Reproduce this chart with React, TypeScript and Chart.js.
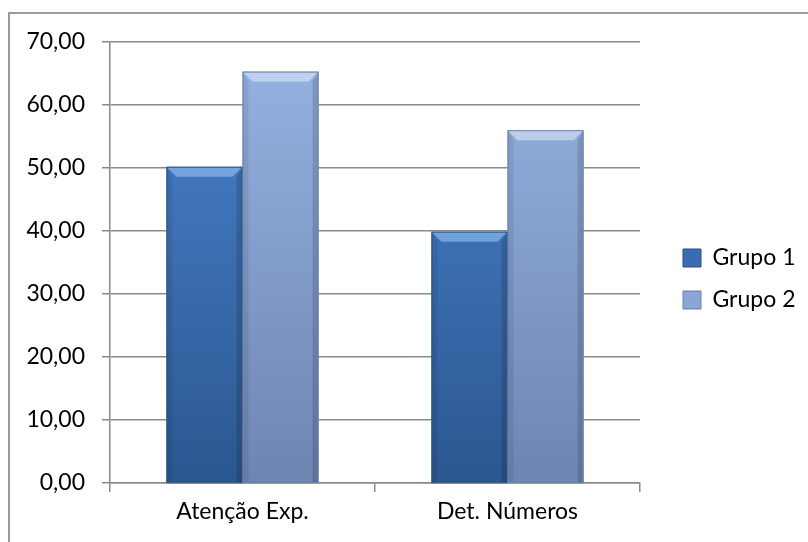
import React, { useEffect, useRef } from 'react';
import { Chart, registerables } from 'chart.js';

Chart.register(...registerables);

const categories = ['Atenção Exp.', 'Det. Números'];
const seriesNames = ['Grupo 1', 'Grupo 2'];
const grupo1 = [50.2, 39.9];
const grupo2 = [65.3, 56.0];
const yMin = 0;
const yMax = 70;
const yStep = 10;

const FONT = 'Lato, "Open Sans", sans-serif';

const palette = [
  { top: '#4a83cf', bottom: '#2b5790', bevel: 'rgba(150,195,245,0.6)', edge: '#2a4f86', legend: '#3a6cb0' },
  { top: '#97b3e3', bottom: '#6d85b1', bevel: 'rgba(220,232,252,0.6)', edge: '#6a80aa', legend: '#8aa6d6' },
];

const gradient = (i: number) => (ctx: any) => {
  const chart = ctx.chart;
  const area = chart.chartArea;
  if (!area) return palette[i].legend;
  const g = chart.ctx.createLinearGradient(0, area.top, 0, area.bottom);
  g.addColorStop(0, palette[i].top);
  g.addColorStop(1, palette[i].bottom);
  return g;
};

const bevelPlugin = {
  id: 'bevel',
  afterDatasetsDraw(chart: any) {
    const ctx = chart.ctx;
    chart.data.datasets.forEach((_ds: any, di: number) => {
      const meta = chart.getDatasetMeta(di);
      meta.data.forEach((bar: any) => {
        const { x, y, base, width } = bar.getProps(['x', 'y', 'base', 'width'], true);
        const l = x - width / 2;
        const r = x + width / 2;
        const b = 10;
        ctx.save();
        ctx.fillStyle = palette[di].bevel;
        ctx.beginPath();
        ctx.moveTo(l, y);
        ctx.lineTo(r, y);
        ctx.lineTo(r - b, y + b);
        ctx.lineTo(l + b, y + b);
        ctx.closePath();
        ctx.fill();
        ctx.fillStyle = 'rgba(0,0,0,0.08)';
        ctx.beginPath();
        ctx.moveTo(l, y);
        ctx.lineTo(l + 6, y + b);
        ctx.lineTo(l + 6, base);
        ctx.lineTo(l, base);
        ctx.closePath();
        ctx.fill();
        ctx.fillStyle = 'rgba(0,0,0,0.14)';
        ctx.beginPath();
        ctx.moveTo(r, y);
        ctx.lineTo(r - 6, y + b);
        ctx.lineTo(r - 6, base);
        ctx.lineTo(r, base);
        ctx.closePath();
        ctx.fill();
        ctx.strokeStyle = palette[di].edge;
        ctx.lineWidth = 1;
        ctx.strokeRect(l + 0.5, y + 0.5, width - 1, base - y);
        ctx.restore();
      });
    });
  },
};

const legendPlugin = {
  id: 'legendPlace',
  beforeLayout(chart: any) {
    const lg = chart.legend;
    if (lg && !lg.__patched) {
      const orig = lg.fit.bind(lg);
      lg.fit = function () {
        orig();
        this.width = 168;
      };
      lg.__patched = true;
    }
  },
  afterLayout(chart: any) {
    const lg = chart.legend;
    if (lg) {
      lg.left = chart.chartArea.right + 24;
      lg.top = 42;
      lg.bottom = 516;
    }
  },
};

export default function App() {
  const ref = useRef<HTMLCanvasElement | null>(null);

  useEffect(() => {
    if (!ref.current) return;
    const gridColor = '#8a8a8a';
    const chart = new Chart(ref.current, {
      type: 'bar',
      data: {
        labels: categories,
        datasets: [
          { label: seriesNames[0], data: grupo1, backgroundColor: gradient(0), borderWidth: 0 },
          { label: seriesNames[1], data: grupo2, backgroundColor: gradient(1), borderWidth: 0 },
        ],
      },
      options: {
        responsive: false,
        animation: false,
        layout: { padding: { left: 10, top: 42, right: 0, bottom: 0 } },
        datasets: { bar: { categoryPercentage: 0.574, barPercentage: 1 } },
        plugins: {
          tooltip: { enabled: false },
          legend: {
            position: 'right',
            labels: {
              font: { family: FONT, size: 23 },
              color: '#000',
              boxWidth: 18,
              boxHeight: 18,
              padding: 19,
              generateLabels: () =>
                seriesNames.map((n, i) => ({
                  text: n,
                  fillStyle: palette[i].legend,
                  strokeStyle: palette[i].edge,
                  lineWidth: 1,
                  hidden: false,
                  datasetIndex: i,
                  fontColor: '#000',
                })),
            },
          },
        },
        scales: {
          x: {
            grid: {
              display: true,
              drawOnChartArea: false,
              drawTicks: true,
              tickLength: 9,
              color: gridColor,
              lineWidth: 1.5,
            },
            border: { display: true, color: gridColor, width: 1.5 },
            ticks: { font: { family: FONT, size: 23 }, color: '#000', padding: 6 },
            afterFit: (s: any) => {
              s.height = 59;
            },
          },
          y: {
            min: yMin,
            max: yMax,
            grid: { color: gridColor, lineWidth: 1.5, tickLength: 8, drawTicks: true },
            border: { display: true, color: gridColor, width: 1.5 },
            ticks: {
              stepSize: yStep,
              font: { family: FONT, size: 23 },
              color: '#000',
              padding: 17,
              callback: (v: any) => Number(v).toFixed(2).replace('.', ','),
            },
            afterFit: (s: any) => {
              s.width = 100;
            },
          },
        },
      },
      plugins: [bevelPlugin, legendPlugin],
    });
    return () => chart.destroy();
  }, []);

  return (
    <div style={{ position: 'fixed', left: 0, top: 0, width: 808, height: 542, overflow: 'hidden', background: '#fff' }}>
      <div
        style={{
          position: 'absolute',
          left: 8,
          top: 12,
          width: 820,
          height: 560,
          border: '2px solid #9a9a9a',
          boxSizing: 'border-box',
        }}
      />
      <canvas ref={ref} width={808} height={542} style={{ position: 'absolute', left: 0, top: 0 }} />
    </div>
  );
}
